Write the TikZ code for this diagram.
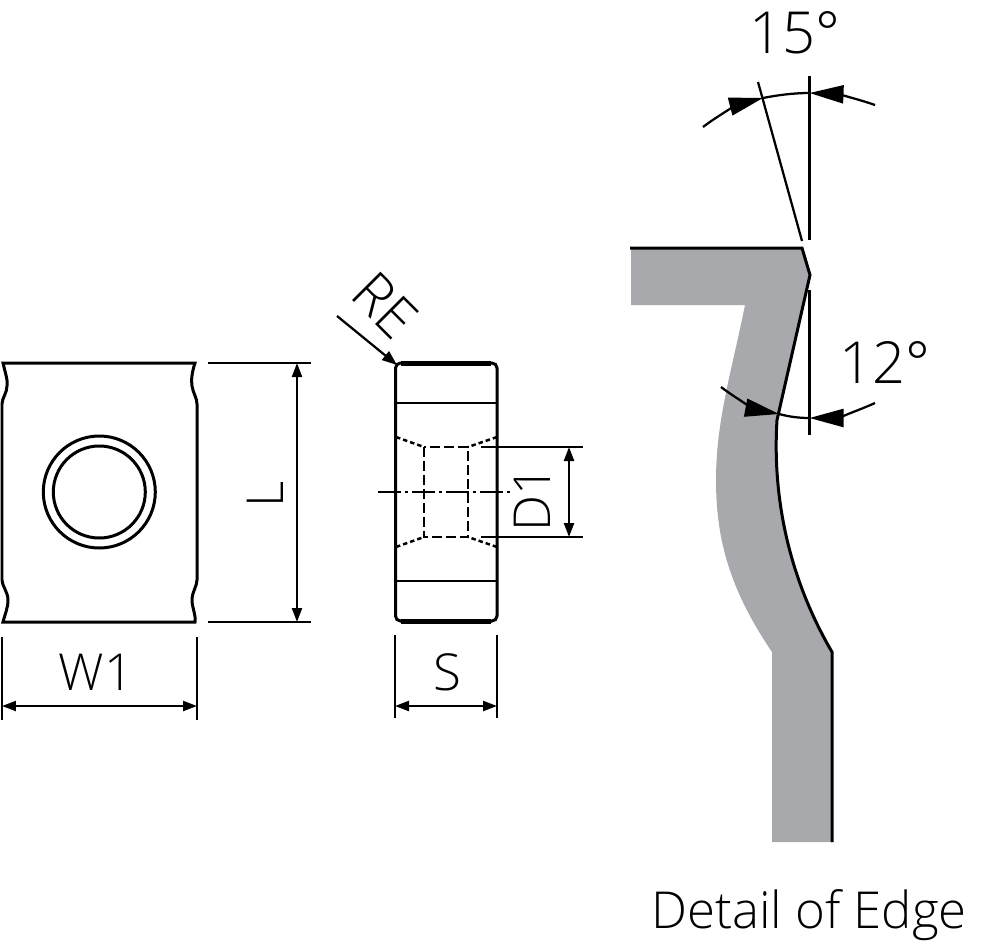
\documentclass[tikz,border=0pt]{standalone}
\usepackage{fontspec}
\setmainfont{Open Sans Light}
\usetikzlibrary{arrows.meta,calc}
\definecolor{edgegray}{HTML}{A7A9AC}
\tikzset{
   outline/.style={line width=0.06cm, black},
   heavy/.style={line width=0.1cm, black},
   thinline/.style={line width=0.045cm, black},
   hidden/.style={line width=0.05cm, dash pattern=on 0.2cm off 0.08cm},
   flare/.style={line width=0.05cm, dash pattern=on 0.09cm off 0.06cm},
   axisline/.style={line width=0.045cm, dash pattern=on 0.46cm off 0.08cm on 0.06cm off 0.08cm},
   dimarrow/.style={thinline, {Triangle[length=0.28cm,width=0.2cm]}-{Triangle[length=0.28cm,width=0.2cm]}},
   anglearrow/.style={thinline, -{Triangle[length=0.68cm,width=0.36cm]}},
   dimtext/.style={font=\fontsize{29}{29}\selectfont, inner sep=0pt},
   angletext/.style={font=\fontsize{33}{33}\selectfont, inner sep=0pt},
}
\begin{document}
\begin{tikzpicture}[x=0.02cm,y=-0.02cm]
   \useasboundingbox (0,0) rectangle (1000,943);

   % detail of edge
   \fill[edgegray] (631,248) -- (802,248) -- (810,275) -- (777,420)
      .. controls (772,500) and (790,580) .. (832,652) -- (832,842) -- (772,842) -- (772,652)
      .. controls (730,590) and (716,540) .. (716,480)
      .. controls (716,420) and (732,370) .. (745,305) -- (631,305) -- cycle;
   \draw[outline] (630,248) -- (802,248) -- (810,275) -- (777,420)
      .. controls (772,500) and (790,580) .. (832,652) -- (832,842);

   \coordinate (top15) at (809.5,93);
   \coordinate (tip15) at (763,98);
   \coordinate (bot12) at (809.5,418);
   \coordinate (tip12) at (779,414);

   \draw[thinline] (809.5,76) -- (809.5,240);
   \draw[thinline] (758,82) -- (802,241);
   \draw[thinline] (809.5,290) -- (809.5,435);
   \draw[thinline] (tip15) .. controls (778,95) and (794,93) .. (top15);
   \draw[thinline] (tip12) .. controls (790,417) and (800,418) .. (bot12);
   \draw[anglearrow] (703,127) .. controls (720,114) and (740,104) .. (tip15);
   \draw[anglearrow] (875,105) .. controls (855,98) and (835,94) .. (top15);
   \draw[anglearrow] (721,387) .. controls (738,400) and (758,410) .. (tip12);
   \draw[anglearrow] (875,403) .. controls (855,412) and (835,418) .. (bot12);

   \node[angletext] (ang15) at (795,33) {15°};
   \node[angletext] (ang12) at (885,363) {12°};
   \node[dimtext] (caption) at (809,915) {Detail of Edge};

   % front view
   \draw[outline] (3,363) -- (195,363)
      .. controls (192,372) and (191,380) .. (192,386)
      .. controls (193,393) and (197,398) .. (197,404) -- (197,580)
      .. controls (197,586) and (192,592) .. (192,600)
      .. controls (192,608) and (196,614) .. (195,622) -- (3,622)
      .. controls (5,614) and (8,608) .. (8,600)
      .. controls (8,592) and (2,586) .. (2,580) -- (2,404)
      .. controls (2,398) and (7,393) .. (7,386)
      .. controls (8,380) and (5,372) .. (3,363) -- cycle;
   \draw[outline] (99.3,492) circle (56);
   \draw[outline] (99.3,492) circle (46);

   \coordinate (lt) at (297,363);
   \coordinate (lb) at (297,622);
   \draw[thinline] (208,363) -- (311,363);
   \draw[thinline] (208,622) -- (311,622);
   \draw[dimarrow] (lt) -- (lb);
   \node[dimtext, rotate=90] (dimL) at (265,494) {L};

   \coordinate (wl) at (2,706);
   \coordinate (wr) at (197,706);
   \draw[thinline] (2,637) -- (2,720);
   \draw[thinline] (197,637) -- (197,720);
   \draw[dimarrow] (wl) -- (wr);
   \node[dimtext] (dimW) at (96,672) {W1};

   % side view
   \draw[outline, rounded corners=0.1cm] (395.5,363) rectangle (497,621);
   \draw[heavy] (401,363) -- (491,363);
   \draw[heavy] (401,621) -- (491,621);
   \draw[thinline] (395,403) -- (497,403);
   \draw[thinline] (395,581) -- (497,581);
   \draw[hidden] (424,447) rectangle (468,537);
   \draw[flare] (396,437) -- (424,447);
   \draw[flare] (497,437) -- (468,447);
   \draw[flare] (396,547) -- (424,537);
   \draw[flare] (497,547) -- (468,537);
   \draw[axisline] (378,492) -- (512,492);

   \coordinate (dt) at (569,447);
   \coordinate (db) at (569,537);
   \draw[thinline] (481,447) -- (583,447);
   \draw[thinline] (481,537) -- (583,537);
   \draw[dimarrow] (dt) -- (db);
   \node[dimtext, rotate=90] (dimD) at (532,499) {D1};

   \coordinate (st) at (337,316);
   \coordinate (cr) at (397,365);
   \draw[thinline, -{Triangle[length=0.3cm,width=0.22cm]}] (st) -- (cr);
   \node[dimtext, rotate=-45, font=\fontsize{32}{32}\selectfont] (dimR) at (385,305) {RE};

   \coordinate (sl) at (395,706);
   \coordinate (sr) at (497,706);
   \draw[thinline] (395,635) -- (395,718);
   \draw[thinline] (497,635) -- (497,718);
   \draw[dimarrow] (sl) -- (sr);
   \node[dimtext] (dimS) at (447,672) {S};
\end{tikzpicture}
\end{document}
